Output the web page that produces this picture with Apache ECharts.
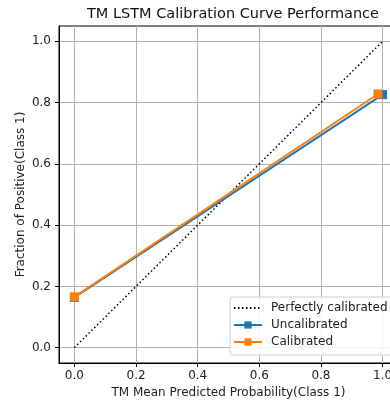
<!DOCTYPE html>
<html>
<head>
<meta charset="utf-8">
<script src="https://cdn.jsdelivr.net/npm/echarts@6/dist/echarts.min.js"></script>
<style>html,body{margin:0;padding:0;background:#fff}#c{width:390px;height:406px}</style>
</head>
<body>
<div id="c"></div>
<script>
const titleText = 'TM LSTM Calibration Curve Performance';
const xName = 'TM Mean Predicted Probability(Class 1)';
const yName = 'Fraction of Positive(Class 1)';
const tickValues = [0, 0.2, 0.4, 0.6, 0.8, 1.0];
const perfectX = [0, 1];
const perfectY = [0, 1];
const uncalX = [0.0, 1.0];
const uncalY = [0.164, 0.826];
const calX = [0.0, 0.985];
const calY = [0.166, 0.828];
const names = ['Perfectly calibrated', 'Uncalibrated', 'Calibrated'];

const pairs = (xs, ys) => xs.map((x, i) => [x, ys[i]]);
const font = 'DejaVu Sans';
const fmt = v => v.toFixed(1);

const axisCommon = {
  type: 'value', min: -0.05, max: 1.05,
  axisLine: { show: true, onZero: false, lineStyle: { color: '#000', width: 1 } },
  axisTick: { show: true, inside: false, length: 4, customValues: tickValues, lineStyle: { color: '#000', width: 1 } },
  axisLabel: { customValues: tickValues, formatter: fmt, color: '#222', fontFamily: font, fontSize: 12 },
  splitLine: { show: true, lineStyle: { color: '#b0b0b0', width: 1 } },
  nameLocation: 'middle',
  nameMoveOverlap: false,
  nameTextStyle: { color: '#222', fontFamily: font, fontSize: 12 }
};

const chart = echarts.init(document.getElementById('c'), null, { renderer: 'canvas' });
chart.setOption({
  animation: false,
  backgroundColor: '#fff',
  title: {
    text: titleText, left: 228, top: 2, textAlign: 'center',
    textStyle: { fontFamily: font, fontSize: 14.5, fontWeight: 'normal', color: '#111' }
  },
  grid: { left: 59, top: 26, width: 339, height: 337, show: true, borderColor: '#000', borderWidth: 1, outerBoundsMode: 'none' },
  xAxis: Object.assign({}, axisCommon, {
    name: xName, nameGap: 24,
    axisLabel: Object.assign({}, axisCommon.axisLabel, { margin: 7 })
  }),
  yAxis: Object.assign({}, axisCommon, {
    name: yName, nameGap: 32,
    axisLabel: Object.assign({}, axisCommon.axisLabel, { margin: 8 })
  }),
  legend: {
    orient: 'vertical', left: 230, top: 297,
    data: [{ name: names[0], itemStyle: { opacity: 0 } }, names[1], names[2]],
    itemWidth: 28, itemHeight: 9, itemGap: 5,
    padding: [5, 8, 7, 3],
    backgroundColor: 'rgba(255,255,255,0.85)', borderColor: '#d0d0d0', borderWidth: 1, borderRadius: 3,
    textStyle: { fontFamily: font, fontSize: 12, color: '#222', padding: [0, 0, 0, 4] }
  },
  series: [
    {
      name: names[0], type: 'line', data: pairs(perfectX, perfectY),
      symbol: 'none', showSymbol: false,
      lineStyle: { color: '#000', width: 1.5, type: [1.5, 2.5] },
      itemStyle: { color: '#000' }, z: 2
    },
    {
      name: names[1], type: 'line', data: pairs(uncalX, uncalY),
      symbol: 'rect', symbolSize: 9,
      lineStyle: { color: '#1f77b4', width: 2 },
      itemStyle: { color: '#1f77b4' }, z: 3
    },
    {
      name: names[2], type: 'line', data: pairs(calX, calY),
      symbol: 'rect', symbolSize: 9,
      lineStyle: { color: '#ff7f0e', width: 2 },
      itemStyle: { color: '#ff7f0e' }, z: 4
    }
  ]
});
</script>
</body>
</html>
